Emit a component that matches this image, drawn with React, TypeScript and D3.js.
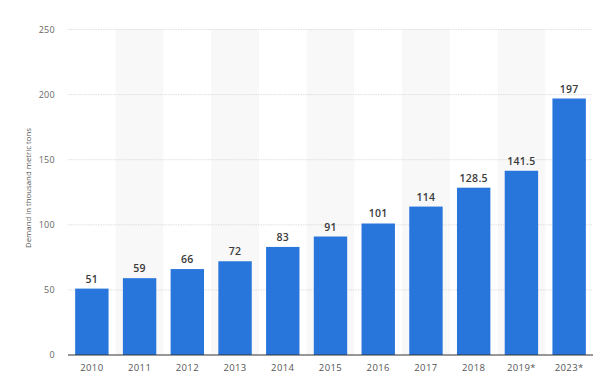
import React from "react";
import * as d3 from "d3";

const categories = ["2010", "2011", "2012", "2013", "2014", "2015", "2016", "2017", "2018", "2019*", "2023*"];
const values = [51, 59, 66, 72, 83, 91, 101, 114, 128.5, 141.5, 197];
const yTicks = [0, 50, 100, 150, 200, 250];
const yTitle = "Demand in thousand metric tons";

export default function App() {
  const W = 602, H = 385;
  const left = 68, right = 593, top = 29.5, bottom = 355;
  const x = d3.scaleBand<string>().domain(categories).range([left, right]).paddingInner(0.3).paddingOuter(0.15);
  const xb = d3.scaleBand<string>().domain(categories).range([left, right]);
  const y = d3.scaleLinear().domain([0, 250]).range([bottom, top]);
  const font = "'Open Sans', 'DejaVu Sans', sans-serif";
  return (
    <svg width={W} height={H} style={{ position: "absolute", left: 0, top: 0, background: "#fff" }} fontFamily={font}>
      {categories.map((c, i) =>
        i % 2 === 1 ? (
          <rect key={"bg" + c} x={xb(c)} y={top} width={xb.bandwidth()} height={bottom - top} fill="#f8f8f8" />
        ) : null
      )}
      {yTicks.map((t) => (
        <g key={"t" + t}>
          {t > 0 && (
            <line x1={left} x2={right} y1={y(t)} y2={y(t)} stroke="#d8d8d8" strokeWidth={0.8} strokeDasharray="1.5,1" />
          )}
          <text x={55} y={y(t)} dy="0.35em" textAnchor="end" fontSize={9} fill="#666" letterSpacing={0.3}>
            {t}
          </text>
        </g>
      ))}
      {categories.map((c, i) => (
        <g key={"b" + c}>
          <rect x={x(c)} y={y(values[i])} width={x.bandwidth()} height={bottom - y(values[i])} fill="#2876dc" />
          <text x={(x(c) as number) + x.bandwidth() / 2} y={y(values[i]) - 6} textAnchor="middle" fontSize={10.5} fontWeight={600} fill="#3a3a3a" letterSpacing={0.3}>
            {values[i]}
          </text>
          <text x={(x(c) as number) + x.bandwidth() / 2} y={371} textAnchor="middle" fontSize={9.5} fill="#555" letterSpacing={0.4}>
            {c}
          </text>
        </g>
      ))}
      <line x1={left} x2={right} y1={bottom} y2={bottom} stroke="#333" strokeWidth={1.2} />
      <text transform={`translate(31,188) rotate(-90)`} textAnchor="middle" fontSize={7.8} fill="#555">
        {yTitle}
      </text>
    </svg>
  );
}
